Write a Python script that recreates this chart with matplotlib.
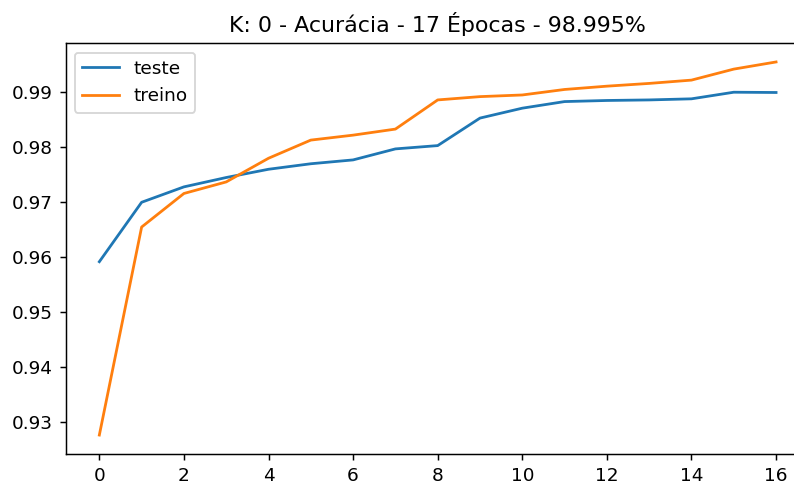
import matplotlib
matplotlib.use("Agg")
import matplotlib.pyplot as plt

epocas = list(range(17))
teste = [0.9592, 0.9700, 0.9728, 0.9745, 0.9760, 0.9770, 0.9777, 0.9797, 0.9803,
         0.9853, 0.9871, 0.9883, 0.9885, 0.9886, 0.9888, 0.9900, 0.98995]
treino = [0.9277, 0.9655, 0.9716, 0.9737, 0.9780, 0.9813, 0.9822, 0.9833, 0.9886,
          0.9892, 0.9895, 0.9905, 0.9911, 0.9916, 0.9922, 0.9942, 0.9955]

DPI = 133
W, H = 794, 482
fig = plt.figure(figsize=(W / DPI, H / DPI), dpi=DPI)
# the original picture is cropped on the right: the axes end at the figure edge
# and the x range is cut to match (full range would be -0.8 .. 16.8)
left, right_full = 65.5, 809.9
ax = fig.add_axes([left / W, (H - 453.7) / H, (W - left) / W, (453.7 - 43.3) / H])
ax.plot(epocas, teste, label="teste")
ax.plot(epocas, treino, label="treino")
ax.set_xlim(-0.8, -0.8 + 17.6 * (W - left) / (right_full - left))
ax.set_xticks(range(0, 17, 2))
ax.set_title("K: 0 - Acurácia - 17 Épocas - 98.995%", x=(right_full - left) / 2 / (W - left))
ax.legend(loc="upper left")
ax.spines["right"].set_visible(False)

fig.savefig("out.png", dpi=DPI)
